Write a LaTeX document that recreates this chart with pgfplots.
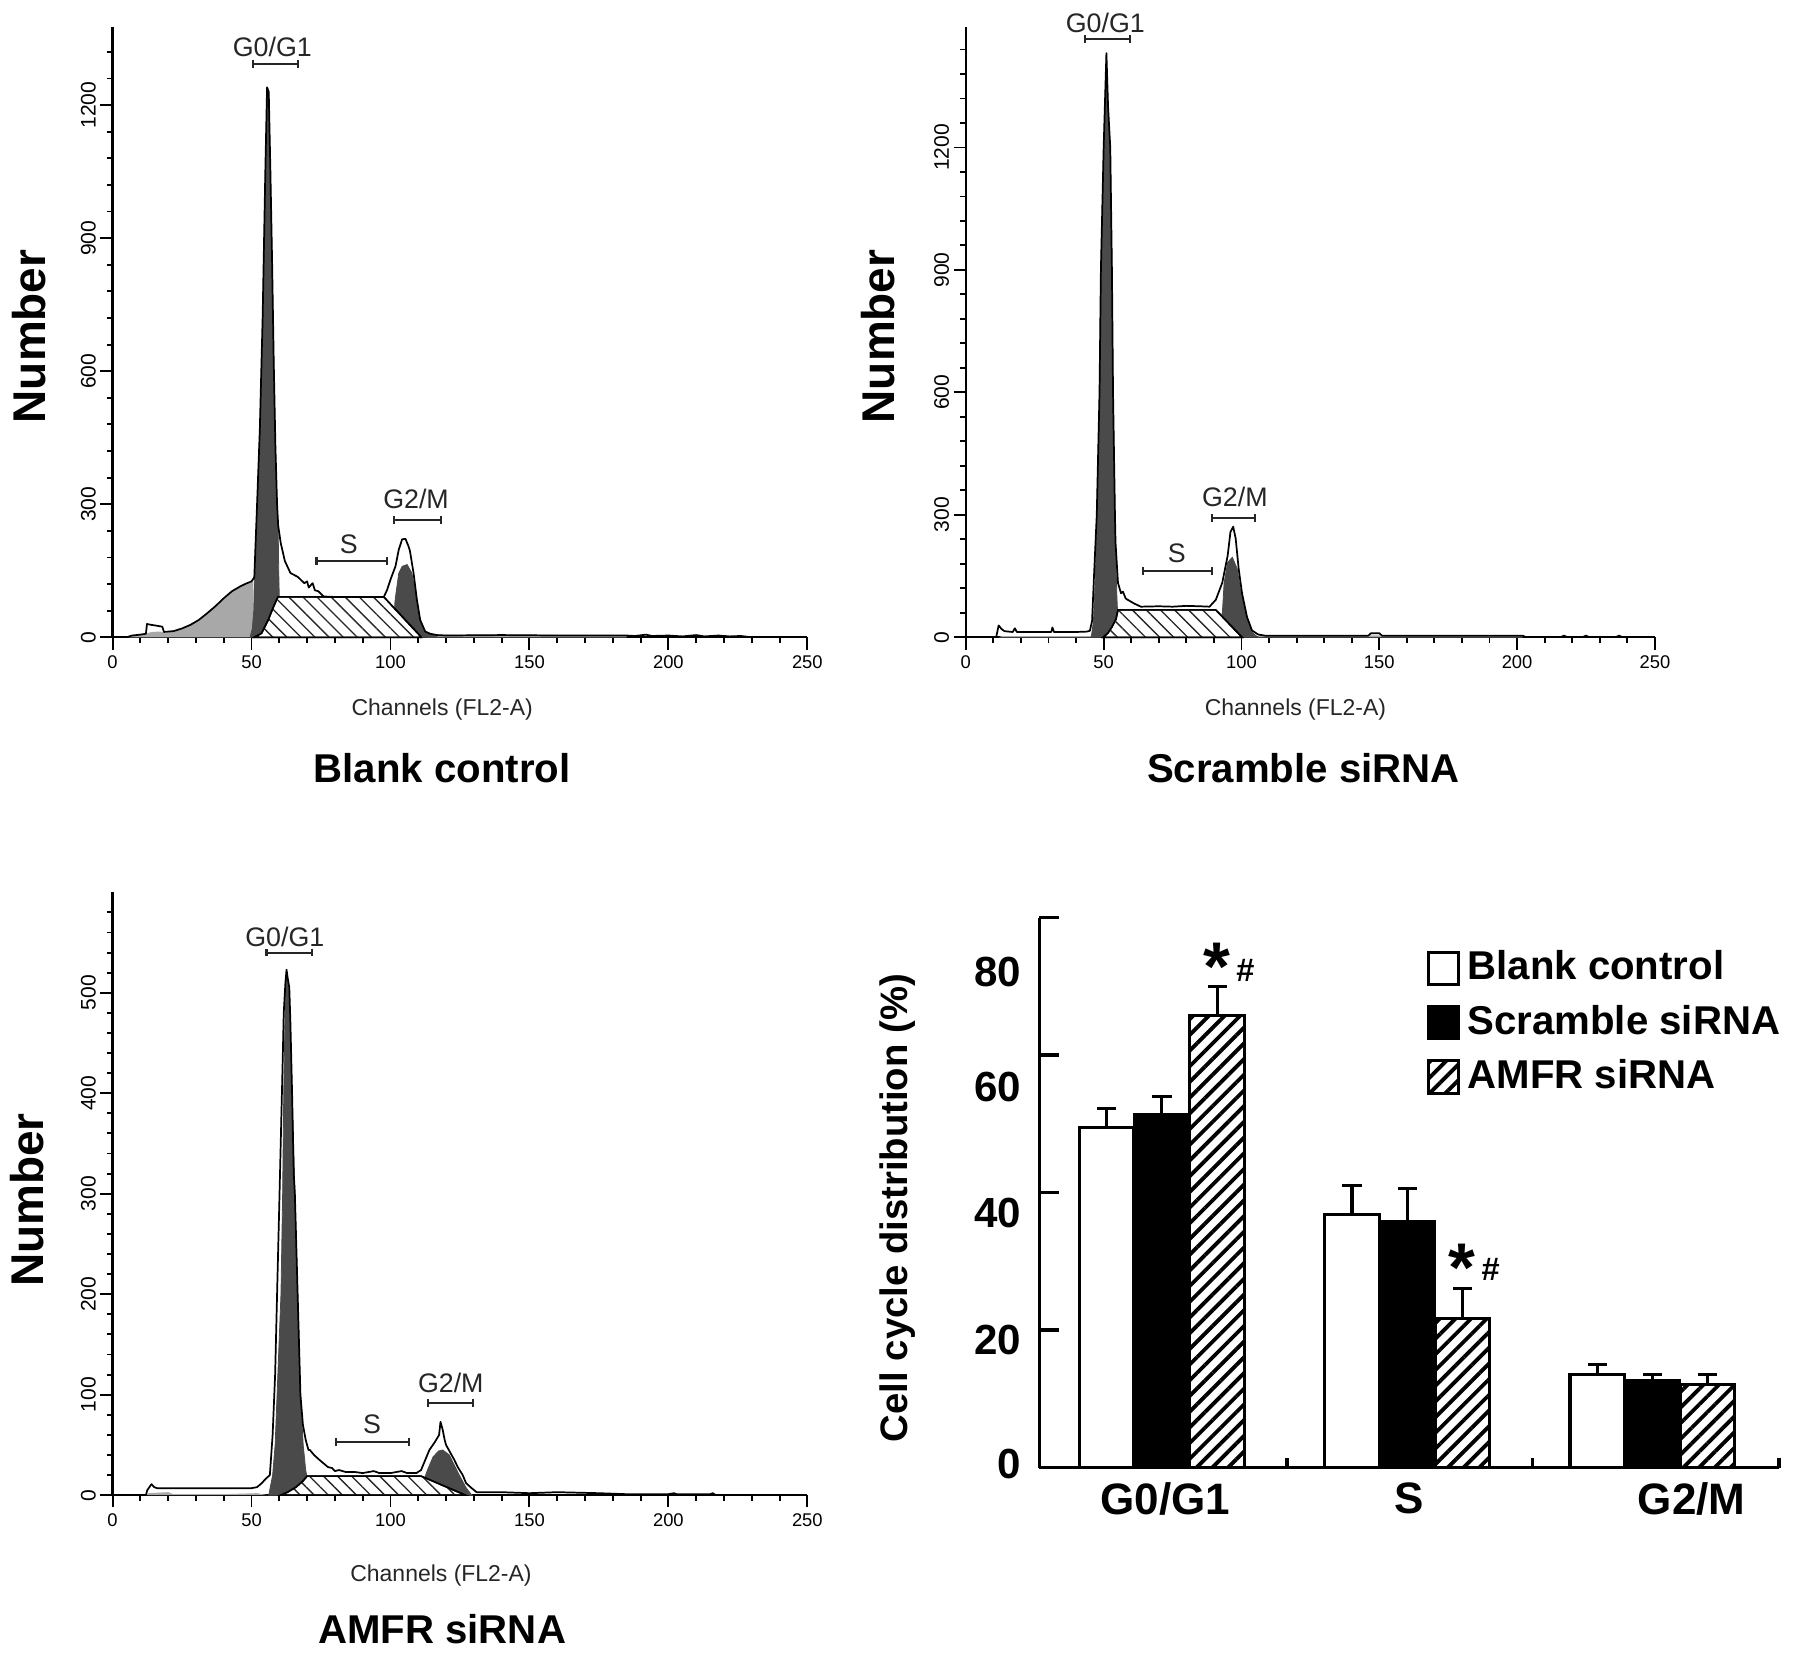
\documentclass[border=0pt]{standalone}
\usepackage{fontspec}
\setmainfont{Liberation Sans}
\usepackage{pgfplots}
\pgfplotsset{compat=1.18}
\usetikzlibrary{patterns.meta,arrows.meta}
\definecolor{darkfill}{HTML}{4A4A4A}
\definecolor{lightfill}{HTML}{A8A8A8}
\pgfplotsset{
 hist/.style={
  scale only axis, clip=false,
  xmin=0, xmax=250, ymin=0,
  axis lines=left, axis line style={-, line width=0.6pt, black},
  xtick={0,50,...,250},
  minor xtick={10,20,30,40,60,70,80,90,110,120,130,140,160,170,180,190,210,220,230,240},
  tick align=outside, major tick length=3.2pt, minor tick length=1.5pt,
  every tick/.style={black, line width=0.5pt},
  /pgf/number format/assume math mode=true,
  /pgf/number format/1000 sep={},
  xticklabel style={font=\fontsize{4.8}{5}\selectfont, anchor=center, yshift=-3.4pt},
  yticklabel style={font=\fontsize{5.5}{5.5}\selectfont, xshift=-3.1pt, rotate=90, anchor=center},
 },
 raw/.style={black, line width=0.45pt, line join=round},
 dark/.style={fill=darkfill, draw=darkfill, line width=0.2pt},
 light/.style={fill=lightfill, draw=none},
 hatchS/.style={preaction={fill=white}, pattern={Lines[angle=-45,distance=2.6pt,line width=0.35pt]}, pattern color=black!85, draw=black, line width=0.4pt},
 errb/.style={draw=none, mark=none, forget plot,
  error bars/.cd, y dir=plus, y explicit, error mark=none,
  error bar style={line width=0.8pt, black, solid}},
 caps/.style={only marks, forget plot, mark=-, mark size=2.5pt, mark options={line width=0.8pt, draw=black, solid}},
}
\tikzset{
 mk/.style={black!85, line width=0.55pt, {Bar[width=2pt]}-{Bar[width=2pt]}},
 mklab/.style={font=\fontsize{7}{7}\selectfont, text=black!85},
}
\begin{document}
\begin{tikzpicture}
\begin{scope}[x=0.3pt,y=-0.3pt]
\path[use as bounding box] (0,0) rectangle (1563,1443);
\coordinate (P1) at (98,553);
\coordinate (P2) at (841,553);
\coordinate (P3) at (98,1300);
\coordinate (P4) at (905,1276);
\node[rotate=90, font=\bfseries\fontsize{12}{12}\selectfont] at (25,291) {Number};
\node[rotate=90, font=\bfseries\fontsize{12}{12}\selectfont] at (765,291) {Number};
\node[rotate=90, font=\bfseries\fontsize{12}{12}\selectfont] at (24,1043) {Number};
\node[font=\fontsize{6}{6}\selectfont, text=black!85] at (385,616) {Channels (FL2-A)};
\node[font=\fontsize{6}{6}\selectfont, text=black!85] at (1128,616) {Channels (FL2-A)};
\node[font=\fontsize{6}{6}\selectfont, text=black!85] at (384,1370) {Channels (FL2-A)};
\node[font=\bfseries\fontsize{10.5}{10.5}\selectfont] at (385,667) {Blank control};
\node[font=\bfseries\fontsize{10.5}{10.5}\selectfont] at (1135,667) {Scramble siRNA};
\node[font=\bfseries\fontsize{10.5}{10.5}\selectfont] at (385,1417) {AMFR siRNA};
\node[rotate=90, font=\bfseries\fontsize{10}{10}\selectfont] at (782,1050) {Cell cycle distribution (\%)};
\end{scope}

% ---------------- Panel 1: Blank control
\begin{axis}[hist, at={(P1)}, anchor=south west, width=181.5pt, height=159.3pt,
  ymax=1375, ytick={0,300,...,1200}, minor ytick={0,60,...,1320}]
\addplot[light] coordinates {(5,0) (7,3) (10,5) (12,8) (14,12) (17,13) (19,10) (22,14) (25,20) (28,28) (31,39) (34,54) (37,70) (40,88) (43,104) (46,115) (48,121) (50.6,125) (50.6,0)} \closedcycle;
\addplot[light] coordinates {(113,0) (113,6) (150,6) (185,5) (185,0)} \closedcycle;
\addplot[dark] coordinates {(49.5,0) (50.3,20) (50.8,60) (51,125) (51.5,200) (52,290) (53,460) (54,700) (55,1040) (55.6,1235) (56.2,1225) (56.8,1040) (57.4,840) (58,610) (58.6,420) (59.2,290) (59.6,240) (59.8,150) (60,90) (60.3,40) (60.6,0)} \closedcycle;
\addplot[dark] coordinates {(101,0) (101.6,80) (102,100) (103,145) (104.2,160) (106,164) (107.7,145) (109,100) (110,54) (111.3,24) (113,9) (115.5,5) (117,0)} \closedcycle;
\addplot[hatchS] coordinates {(51,0) (53.6,9) (56,39) (58,70) (59.5,91) (97.6,91) (110.7,3) (111,0)} \closedcycle;
\addplot[raw] coordinates {(5,0) (7,4) (10,6) (12,8) (12.4,30) (14,28) (16,26) (17.9,24) (18.5,12) (22,14) (25,20) (28,28) (31,39) (34,54) (37,70) (40,88) (43,104) (46,115) (48,121) (50,126) (51,135) (52,300) (53,470) (54,720) (55,1060) (55.6,1240) (56.2,1230) (56.8,1050) (57.4,850) (58,620) (58.6,430) (59.2,300) (59.6,252) (60.5,213) (62,172) (64,145) (66.7,136) (68,128) (69,122) (70,126) (70.6,112) (71.4,118) (72,122) (72.8,106) (74,104) (76,92) (80,91) (90,91) (97.6,91) (98.8,107) (100,130) (101.8,160) (103,198) (104.2,221) (105.4,222) (106.5,205) (107,195) (108.3,145) (109.5,85) (110.7,39) (112.5,13) (114.3,8) (116.7,5) (120,4) (140,5) (160,4) (185,4) (188,3) (192,6) (194,3) (200,4) (205,2) (210,5) (213,2) (218,4) (222,2) (226,3) (230,0)};
\draw[mk] (axis cs:50,1293) -- (axis cs:67,1293);
\node[mklab] at (axis cs:57.5,1331) {G0/G1};
\draw[mk] (axis cs:73,172) -- (axis cs:99,172);
\node[mklab] at (axis cs:85,210) {S};
\draw[mk] (axis cs:101,264) -- (axis cs:118.5,264);
\node[mklab] at (axis cs:109.2,311) {G2/M};
\end{axis}

% ---------------- Panel 2: Scramble siRNA
\begin{axis}[hist, at={(P2)}, anchor=south west, width=180pt, height=159.3pt,
  ymax=1494, ytick={0,300,...,1200}, minor ytick={0,60,...,1440}]
\addplot[light] coordinates {(12,0) (13,3) (45,3) (46,0)} \closedcycle;
\addplot[light] coordinates {(106,0) (106,5) (202,5) (202,0)} \closedcycle;
\addplot[dark] coordinates {(45.5,0) (46.3,40) (47,150) (47.5,300) (48.5,600) (49,900) (50,1200) (51,1425) (51.6,1300) (52.4,1190) (53,900) (53.4,600) (54.1,300) (54.4,200) (54.8,100) (55.2,40) (55.6,0)} \closedcycle;
\addplot[dark] coordinates {(91.5,0) (93.1,63) (93.7,133) (95,184) (96.7,196) (98.5,167) (99.6,117) (101.4,67) (102.6,33) (103.8,12.5) (105.6,2) (106.5,0)} \closedcycle;
\addplot[hatchS] coordinates {(49.8,0) (51.5,10) (53,25) (54.5,45) (55.2,67) (90.7,67) (100.2,0)} \closedcycle;
\addplot[raw] coordinates {(11,0) (11.9,29) (13,20) (14,15) (17,13) (17.8,22) (18.5,13) (25,13) (31,13) (31.4,24) (32,13) (40,13) (44,14) (45,16) (45.8,40) (46.5,150) (47.5,300) (48.5,600) (49,900) (50,1200) (51,1431) (51.6,1300) (52.4,1200) (53,900) (53.4,600) (54.1,300) (54.3,233) (55.2,133) (56.3,108) (57,112) (58,95) (58.7,92) (61,83) (63.5,75) (70,76) (75,75) (80,77) (85,76) (88.4,75) (90.7,92) (93,133) (95,200) (96,258) (97,271) (97.9,242) (99,167) (100.2,108) (102,50) (103.8,17) (106,7) (108.5,4) (146,4) (147,10) (150,10) (151,4) (202,4) (203,1) (216,1) (217,4) (218,1) (224,1) (225,4) (226,1) (236,1) (237,4) (238,1) (240,0)};
\draw[mk] (axis cs:43,1466) -- (axis cs:60,1466);
\node[mklab] at (axis cs:50.6,1506) {G0/G1};
\draw[mk] (axis cs:64,163) -- (axis cs:89.6,163);
\node[mklab] at (axis cs:76.5,207) {S};
\draw[mk] (axis cs:89,293) -- (axis cs:105.3,293);
\node[mklab] at (axis cs:97.6,345) {G2/M};
\end{axis}

% ---------------- Panel 3: AMFR siRNA
\begin{axis}[hist, at={(P3)}, anchor=south west, width=181.5pt, height=157.5pt,
  ymax=600, ytick={0,100,...,500}, minor ytick={0,20,...,580}]
\addplot[light] coordinates {(12,0) (13,2) (20,3) (22,1) (40,1) (52,2) (56,0)} \closedcycle;
\addplot[dark] coordinates {(56.2,0) (57.6,20) (58.5,50) (59.2,100) (60.6,200) (61.2,300) (61.6,400) (62.2,500) (62.6,520) (63.2,505) (63.6,500) (64.6,400) (65.6,300) (66.6,200) (67.6,100) (68.6,50) (69.5,25) (70.5,10) (71.5,0)} \closedcycle;
\addplot[dark] coordinates {(110.5,0) (112,15) (113.3,25) (115.3,38) (117.3,44) (118.8,45) (121.2,40) (124.2,23) (127.2,7.5) (129,1) (129.5,0)} \closedcycle;
\addplot[hatchS] coordinates {(60.5,0) (63,3) (66,8) (68.5,14) (70,19) (111,19) (127,0)} \closedcycle;
\addplot[raw] coordinates {(12,0) (12.5,5) (14,11) (15,8) (16,7) (20,7) (30,7) (40,7) (50,7) (52,8) (53.7,12) (55,16) (56.6,20) (57.6,60) (58.5,120) (59.2,200) (60,290) (60.6,360) (61.2,430) (61.6,480) (62.2,510) (62.6,523) (63,515) (63.6,505) (64,470) (64.6,400) (65.2,320) (65.6,300) (66.6,200) (67.6,100) (68.5,70) (69.5,55) (70.5,45) (71,45) (72.5,40) (74.5,35) (77.5,28) (79,27) (80,24) (81.5,25) (84,23) (87.4,23) (90,22) (94,24) (96,22) (100,22) (104,24) (106,22) (109.3,22) (111,25) (114,45) (116,53) (117.5,60) (118,73) (118.8,65) (119.5,55) (120,50) (123,35) (124.2,28) (126,20) (127.2,12) (129,7.5) (131,3) (140,3) (150,2) (160,3) (175,2) (185,1) (200,1) (202,2) (203,1) (215,1) (216,2) (217,0)};
\draw[mk] (axis cs:55,540) -- (axis cs:72,540);
\node[mklab] at (axis cs:62,556) {G0/G1};
\draw[mk] (axis cs:80,53) -- (axis cs:107,53);
\node[mklab] at (axis cs:93.4,71) {S};
\draw[mk] (axis cs:113,92) -- (axis cs:130,92);
\node[mklab] at (axis cs:121.7,112) {G2/M};
\end{axis}

% ---------------- Panel 4: bar chart
\begin{axis}[at={(P4)}, anchor=south west, scale only axis, width=193.2pt, height=143.7pt, clip=false,
  xmin=-0.5, xmax=2.516, ymin=0, ymax=80,
  axis lines=left, axis line style={-, line width=0.9pt, black},
  every tick/.style={black, line width=0.9pt},
  major tick length=0pt, tick align=inside,
  xtick={0.013,1.01,2.16}, xticklabels={G0/G1,S,G2/M},
  xticklabel style={font=\bfseries\fontsize{11.5}{11.5}\selectfont, anchor=center, yshift=-8.1pt},
  ytick={0.5,18.5,37,55.3,72.1}, yticklabels={0,20,40,60,80},
  yticklabel style={font=\bfseries\fontsize{11}{11}\selectfont, anchor=east, inner sep=0pt, xshift=-4.5pt},
  extra x ticks={0.51,1.51,2.516}, extra x tick labels={}, extra x tick style={major tick length=2.6pt},
  extra y ticks={20,40,60,80}, extra y tick labels={}, extra y tick style={major tick length=5.1pt},
  legend image code/.code={\draw[#1, line width=0.8pt] (0pt,-4.2pt) rectangle (7.8pt,4.2pt);},
  legend cell align=left,
  legend style={at={(0.523,0.955)}, anchor=north west, draw=none, fill=none, inner sep=0pt, row sep=1.1pt,
    font=\bfseries\fontsize{10.5}{11}\selectfont},
]
\addplot[ybar, bar width=0.222, bar shift=-0.225, fill=white, draw=black, line width=0.8pt]
  coordinates {(0,49.4) (1,36.8) (2,13.5)};
\addlegendentry{Blank control}
\addplot[ybar, bar width=0.222, bar shift=0, fill=black, draw=black, line width=0.8pt]
  coordinates {(0,51.4) (1,35.8) (2,12.6)};
\addlegendentry{Scramble siRNA}
\addplot[ybar, bar width=0.222, bar shift=0.225, preaction={fill=white}, pattern={Lines[angle=45,distance=2.9pt,line width=1pt]}, pattern color=black, draw=black, line width=0.8pt]
  coordinates {(0,65.7) (1,21.7) (2,12.1)};
\addlegendentry{AMFR siRNA}
% error bars (drawn at the bar centres) and their caps (mean + SD)
\addplot[errb] coordinates {(-0.225,49.4) +- (0,2.8) (0.775,36.8) +- (0,4.3) (1.775,13.5) +- (0,1.5)};
\addplot[errb] coordinates {(0,51.4) +- (0,2.6) (1,35.8) +- (0,4.8) (2,12.6) +- (0,0.9)};
\addplot[errb] coordinates {(0.225,65.7) +- (0,4.3) (1.225,21.7) +- (0,4.4) (2.225,12.1) +- (0,1.4)};
\addplot[caps] coordinates {(-0.225,52.2) (0.775,41.1) (1.775,15.0) (0,54.0) (1,40.6) (2,13.5) (0.225,70.0) (1.225,26.1) (2.225,13.5)};
\node[font=\bfseries\fontsize{18}{18}\selectfont, anchor=base] at (axis cs:0.225,69.4) {*};
\node[font=\bfseries\fontsize{8.5}{8.5}\selectfont, anchor=base] at (axis cs:0.34,70.7) {\#};
\node[font=\bfseries\fontsize{18}{18}\selectfont, anchor=base] at (axis cs:1.225,25.6) {*};
\node[font=\bfseries\fontsize{8.5}{8.5}\selectfont, anchor=base] at (axis cs:1.34,27.2) {\#};
\end{axis}
\end{tikzpicture}
\end{document}
